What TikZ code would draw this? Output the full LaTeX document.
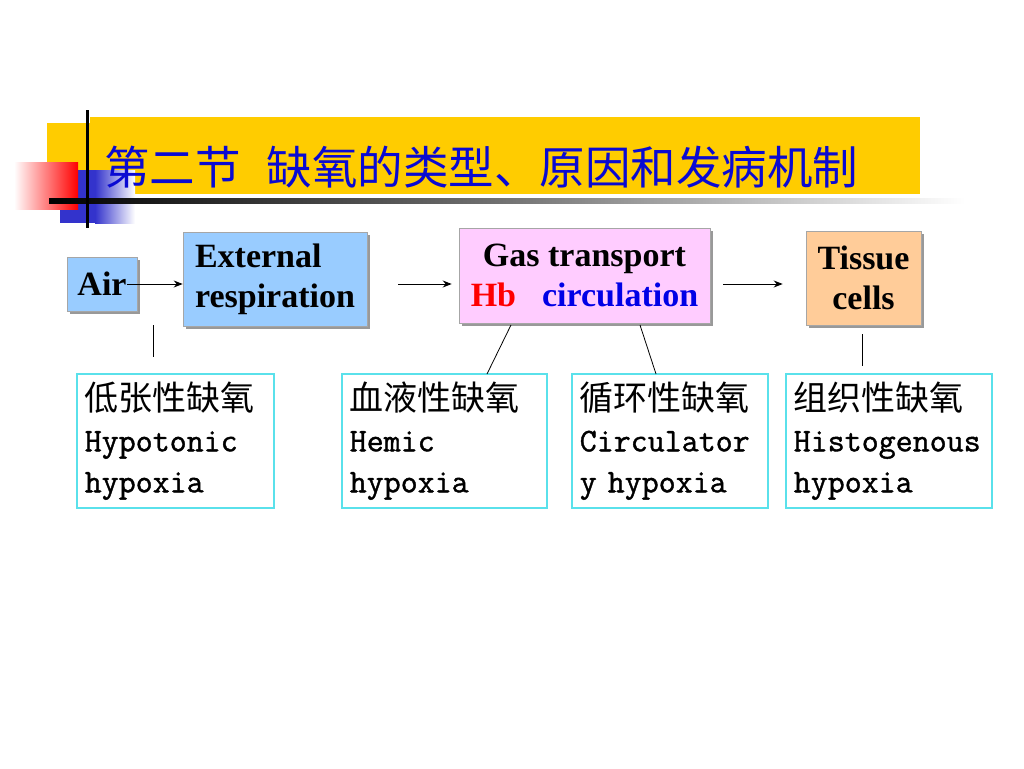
\documentclass[tikz,border=0pt]{standalone}
\usepackage{fontspec}
\setmainfont{Liberation Serif}
\newfontfamily\cjk{Noto Sans CJK SC}
\newfontfamily\monof[FakeBold=1.2]{Latin Modern Mono}
\usetikzlibrary{arrows.meta,shadows}
\definecolor{ttlyellow}{RGB}{255,204,0}
\definecolor{ttlblue}{RGB}{10,10,210}
\definecolor{boxblue}{RGB}{153,204,255}
\definecolor{boxpink}{RGB}{255,204,255}
\definecolor{boxorange}{RGB}{255,204,153}
\definecolor{hcyan}{RGB}{90,225,235}
\definecolor{hbred}{RGB}{255,0,0}
\definecolor{circblue}{RGB}{0,0,230}
\definecolor{decoblue}{RGB}{51,51,204}
\tikzset{
  topbox/.style={draw=gray!70, line width=0.6pt, font=\fontsize{34}{40}\selectfont\bfseries,
    inner sep=0pt, drop shadow={shadow xshift=3pt, shadow yshift=-3pt, fill=gray!80, opacity=1}},
  hbox/.style={draw=hcyan, line width=1.5pt, anchor=north west, align=left, inner xsep=8pt,
    inner ysep=0pt, minimum height=134pt, font=\fontsize{33}{41}\monof},
  arr/.style={line width=1pt, -{Stealth[length=9pt,width=7pt]}},
  thin/.style={line width=0.8pt}
}
\begin{document}
\begin{tikzpicture}[x=1pt,y=-1pt]
\useasboundingbox[fill=white] (0,0) rectangle (1024,768);
% title decoration
\fill[ttlyellow] (47,123) rectangle (92,194);
\fill[ttlyellow] (90,117) rectangle (920,194);
\shade[left color=decoblue, right color=white] (95,170) rectangle (135,223);
\fill[decoblue] (60,170) rectangle (96,223);
\shade[left color=white, right color=red] (14,162) rectangle (78,209);
\shade[left color=black, right color=white, middle color=gray!90!black] (49,198) rectangle (965,203);
\fill[black] (85.5,110) rectangle (88.5,228);
\node[anchor=base west, inner sep=0pt, text=ttlblue, font=\cjk\fontsize{45.5}{45.5}\selectfont] (title) at (104,184) {第二节\hspace{26pt}缺氧的类型、原因和发病机制};
% top boxes
\node[topbox, fill=boxblue, minimum width=70pt, minimum height=54pt] (air) at (102,284) {Air};
\node[topbox, fill=boxblue, minimum width=184pt, minimum height=94pt, align=left] (ext) at (275,279) {External\\respiration};
\node[topbox, fill=boxpink, minimum width=251pt, minimum height=95pt, align=center] (gas) at (584.5,275.5) {Gas transport\\{\color{hbred}Hb}\hspace{26pt}{\color{circblue}circulation}};
\node[topbox, fill=boxorange, minimum width=115pt, minimum height=94pt, align=center] (tis) at (863.5,278) {Tissue\\cells};
% arrows
\draw[arr] ([xshift=-10pt]air.east) -- (air.east -| ext.west);
\draw[arr] ([xshift=31pt]ext.east |- air.east) -- ([xshift=-7pt]gas.west |- air.east);
\draw[arr] ([xshift=13pt]gas.east |- air.east) -- ([xshift=-23pt]tis.west |- air.east);
% bottom boxes
\node[hbox, text width=181pt] (h1) at (76,373) {{\cjk\fontsize{34}{41}\selectfont 低张性缺氧}\\Hypotonic\\hypoxia};
\node[hbox, text width=189pt] (h2) at (341,373) {{\cjk\fontsize{34}{41}\selectfont 血液性缺氧}\\Hemic\\hypoxia};
\node[hbox, text width=180pt] (h3) at (571,373) {{\cjk\fontsize{34}{41}\selectfont 循环性缺氧}\\Circulator\\y hypoxia};
\node[hbox, text width=190pt] (h4) at (785,373) {{\cjk\fontsize{34}{41}\selectfont 组织性缺氧}\\Histogenous\\hypoxia};
% connector lines
\coordinate (a1) at (153,325); \coordinate (a2) at (153,357);
\coordinate (b1) at (511,325); \coordinate (b2) at (487,374);
\coordinate (c1) at (640,325); \coordinate (c2) at (656,374);
\coordinate (d1) at (862,334); \coordinate (d2) at (862,366);
\draw[thin] (a1) -- (a2);
\draw[thin] (b1) -- (b2);
\draw[thin] (c1) -- (c2);
\draw[thin] (d1) -- (d2);
\end{tikzpicture}
\end{document}
